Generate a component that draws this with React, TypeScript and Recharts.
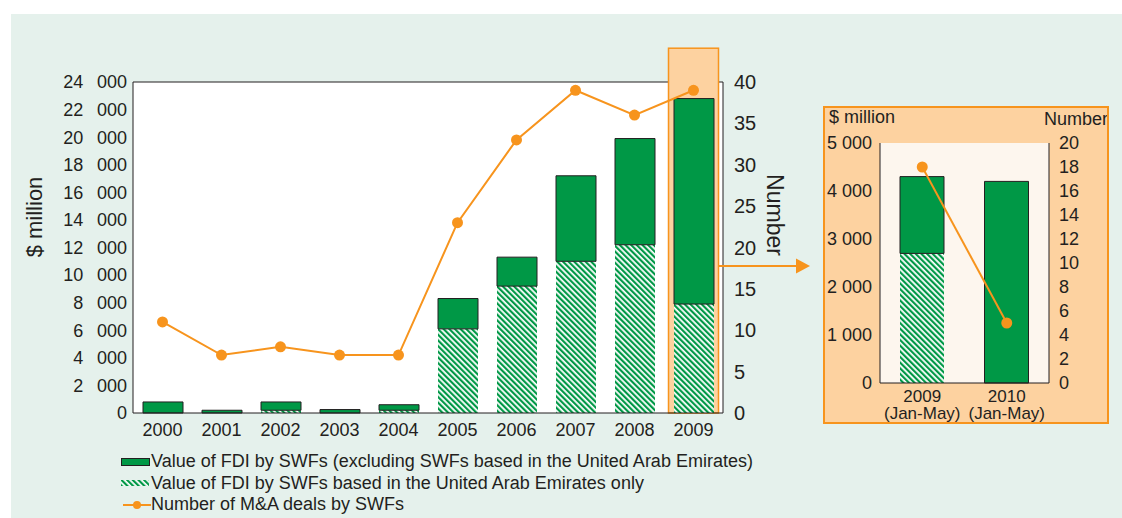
import React from "react";
import {
  ComposedChart,
  Bar,
  Line,
  XAxis,
  YAxis,
  CartesianGrid,
  ReferenceArea,
  Legend,
  Label,
} from "recharts";

// main panel: FDI by sovereign wealth funds, 2000-2009
const years = ["2000", "2001", "2002", "2003", "2004", "2005", "2006", "2007", "2008", "2009"];
const uaeFdi = [0, 0, 200, 0, 200, 6100, 9200, 11000, 12200, 7900];
const otherFdi = [800, 200, 600, 250, 400, 2200, 2100, 6200, 7700, 14900];
const dealCounts = [11, 7, 8, 7, 7, 23, 33, 39, 36, 39];

// inset panel: first five months of 2009 and 2010
const insetPeriods = ["2009 (Jan-May)", "2010 (Jan-May)"];
const insetUaeFdi = [2700, 0];
const insetOtherFdi = [1600, 4200];
const insetDealCounts = [18, 5];

const valueTicks = [0, 2000, 4000, 6000, 8000, 10000, 12000, 14000, 16000, 18000, 20000, 22000, 24000];
const countTicks = [0, 5, 10, 15, 20, 25, 30, 35, 40];
const insetValueTicks = [0, 1000, 2000, 3000, 4000, 5000];
const insetCountTicks = [0, 2, 4, 6, 8, 10, 12, 14, 16, 18, 20];

const highlightYear = "2009";

const OTHER_NAME = "Value of FDI by SWFs (excluding SWFs based in the United Arab Emirates)";
const UAE_NAME = "Value of FDI by SWFs based in the United Arab Emirates only";
const DEALS_NAME = "Number of M&A deals by SWFs";

const GREEN = "#009846";
const ORANGE = "#f7941d";
const PEACH = "#fdd2a0";
const INK = "#231f20";
const MINT = "#e5f1ec";

const mainData = years.map((year, i) => ({
  year,
  uae: uaeFdi[i],
  other: otherFdi[i],
  deals: dealCounts[i],
}));

const insetData = insetPeriods.map((period, i) => ({
  period,
  uae: insetUaeFdi[i],
  other: insetOtherFdi[i],
  deals: insetDealCounts[i],
}));

// non-breaking separators so recharts doesn't wrap the tick text
const thousands = (sep: string) => (v: number) =>
  v >= 1000 ? `${Math.floor(v / 1000)}${sep}000` : `${v}`;

// axis title drawn relative to the axis box
const axisTitle =
  (text: string, angle: number, dx: number, dyFromTop: number, fontSize: number) =>
  (props: any) => {
    const vb = props.viewBox || {};
    const x = vb.x + dx;
    const y = vb.y + dyFromTop;
    return (
      <text
        x={x}
        y={y}
        transform={angle ? `rotate(${angle} ${x} ${y})` : undefined}
        textAnchor="middle"
        dominantBaseline="central"
        fontSize={fontSize}
        fill={INK}
      >
        {text}
      </text>
    );
  };

const hatch = (id: string) => (
  <defs>
    <pattern id={id} width={4} height={4} patternUnits="userSpaceOnUse" patternTransform="rotate(-45)">
      <rect width={4} height={4} fill="#fff" />
      <rect width={2.2} height={4} fill={GREEN} />
    </pattern>
  </defs>
);

const HighlightBox = (props: any) => (
  <rect
    x={props.x + 4.5}
    y={props.y}
    width={props.width - 9}
    height={props.height}
    fill={PEACH}
    stroke={ORANGE}
    strokeWidth={1.5}
  />
);

const InsetTick = (props: any) => {
  const { x, y, payload } = props;
  const [first, ...rest] = String(payload.value).split(" ");
  return (
    <text x={x} y={y + 3} textAnchor="middle" fontSize={17} fill={INK}>
      <tspan x={x} dy="0.8em">{first}</tspan>
      <tspan x={x} dy="1em">{rest.join(" ")}</tspan>
    </text>
  );
};

const renderLegend = () => (
  <div style={{ fontSize: 18, color: INK, lineHeight: "21.5px", textAlign: "left" }}>
    <div style={{ display: "flex", alignItems: "center" }}>
      <svg width={33} height={10}>
        <rect x={3.5} y={1.5} width={28} height={7} fill={GREEN} stroke={INK} strokeWidth={1} />
      </svg>
      <span>{OTHER_NAME}</span>
    </div>
    <div style={{ display: "flex", alignItems: "center" }}>
      <svg width={33} height={10}>
        {hatch("legendHatch")}
        <rect x={3} y={2} width={28} height={6} fill="url(#legendHatch)" />
      </svg>
      <span>{UAE_NAME}</span>
    </div>
    <div style={{ display: "flex", alignItems: "center" }}>
      <svg width={33} height={12}>
        <line x1={5} y1={6} x2={33} y2={6} stroke={ORANGE} strokeWidth={2} />
        <circle cx={19} cy={6} r={4} fill={ORANGE} />
      </svg>
      <span>{DEALS_NAME}</span>
    </div>
  </div>
);

export default function App() {
  return (
    <div
      style={{
        position: "absolute",
        left: 0,
        top: 0,
        width: 1122,
        height: 518,
        background: "#fff",
        fontFamily: "'Liberation Sans', Arial, sans-serif",
        overflow: "hidden",
      }}
    >
      <div style={{ position: "absolute", left: 11, top: 14, right: 0, bottom: 0, background: MINT }} />

      <div style={{ position: "absolute", left: 0, top: 0 }}>
        <ComposedChart
          width={800}
          height={518}
          data={mainData}
          margin={{ top: 82, right: 17, bottom: 75, left: 0 }}
        >
          {hatch("uaeHatchMain")}
          <CartesianGrid
            yAxisId="left"
            fill="#fff"
            vertical={false}
            stroke={INK}
            horizontalCoordinatesGenerator={({ offset }: any) => [offset.top]}
          />
          <XAxis
            dataKey="year"
            tickLine={false}
            tickSize={0}
            tickMargin={10}
            height={30}
            axisLine={{ stroke: INK }}
            tick={{ fill: INK, fontSize: 18 }}
            interval={0}
          />
          <YAxis
            yAxisId="left"
            domain={[0, 24000]}
            ticks={valueTicks}
            interval={0}
            width={133}
            tickLine={false}
            tickSize={0}
            tickMargin={6}
            axisLine={{ stroke: INK }}
            tick={{ fill: INK, fontSize: 18 }}
            tickFormatter={thousands("\u2007\u2009")}
          >
            <Label content={axisTitle("$ million", -90, 34, 135, 22)} />
          </YAxis>
          <YAxis
            yAxisId="right"
            orientation="right"
            domain={[0, 40]}
            ticks={countTicks}
            interval={0}
            width={60}
            tickLine={false}
            tickSize={0}
            tickMargin={11}
            axisLine={{ stroke: INK }}
            tick={{ fill: INK, fontSize: 20 }}
          >
            <Label content={axisTitle("Number", 90, 52, 133, 23)} />
          </YAxis>
          <ReferenceArea
            yAxisId="left"
            x1={highlightYear}
            x2={highlightYear}
            y1={0}
            y2={26450}
            ifOverflow="visible"
            shape={HighlightBox}
          />
          <Bar
            yAxisId="left"
            dataKey="uae"
            name={UAE_NAME}
            stackId="fdi"
            barSize={40}
            fill="url(#uaeHatchMain)"
            isAnimationActive={false}
          />
          <Bar
            yAxisId="left"
            dataKey="other"
            name={OTHER_NAME}
            stackId="fdi"
            barSize={40}
            fill={GREEN}
            stroke={INK}
            strokeWidth={1}
            isAnimationActive={false}
          />
          <Line
            yAxisId="right"
            type="linear"
            dataKey="deals"
            name={DEALS_NAME}
            stroke={ORANGE}
            strokeWidth={2}
            dot={{ r: 5.5, fill: ORANGE, stroke: ORANGE, strokeWidth: 0 }}
            activeDot={false}
            isAnimationActive={false}
          />
          <Legend
            layout="horizontal"
            verticalAlign="middle"
            align="center"
            content={renderLegend}
            wrapperStyle={{ left: 118, top: 451, bottom: "auto", width: "auto" }}
          />
        </ComposedChart>
      </div>

      <svg
        width={1122}
        height={518}
        style={{ position: "absolute", left: 0, top: 0, pointerEvents: "none" }}
      >
        <line x1={718} y1={266} x2={798} y2={266} stroke={ORANGE} strokeWidth={2} />
        <polygon points="796,258.5 810,266 796,273.5" fill={ORANGE} />
      </svg>

      <div
        style={{
          position: "absolute",
          left: 823,
          top: 106,
          width: 286,
          height: 318,
          boxSizing: "border-box",
          background: PEACH,
          border: `2px solid ${ORANGE}`,
        }}
      >
        <ComposedChart
          width={282}
          height={314}
          data={insetData}
          margin={{ top: 35, right: 4, bottom: 0, left: 19 }}
        >
          {hatch("uaeHatchInset")}
          <CartesianGrid yAxisId="left" fill="#fdf6ee" vertical={false} horizontal={false} />
          <XAxis
            dataKey="period"
            tickLine={false}
            tickSize={0}
            height={39}
            axisLine={{ stroke: INK }}
            tick={InsetTick}
            interval={0}
          />
          <YAxis
            yAxisId="left"
            domain={[0, 5000]}
            ticks={insetValueTicks}
            interval={0}
            width={36}
            tickLine={false}
            tickSize={0}
            tickMargin={8}
            axisLine={{ stroke: INK }}
            tick={{ fill: INK, fontSize: 18 }}
            tickFormatter={thousands("\u00a0")}
          >
            <Label content={axisTitle("$ million", 0, 18, -26, 18)} />
          </YAxis>
          <YAxis
            yAxisId="right"
            orientation="right"
            domain={[0, 20]}
            ticks={insetCountTicks}
            interval={0}
            width={54}
            tickLine={false}
            tickSize={0}
            tickMargin={10}
            axisLine={{ stroke: INK }}
            tick={{ fill: INK, fontSize: 18 }}
          >
            <Label content={axisTitle("Number", 0, 27, -24, 18)} />
          </YAxis>
          <Bar
            yAxisId="left"
            dataKey="uae"
            stackId="fdi"
            barSize={44}
            fill="url(#uaeHatchInset)"
            isAnimationActive={false}
          />
          <Bar
            yAxisId="left"
            dataKey="other"
            stackId="fdi"
            barSize={44}
            fill={GREEN}
            stroke={INK}
            strokeWidth={1}
            isAnimationActive={false}
          />
          <Line
            yAxisId="right"
            type="linear"
            dataKey="deals"
            stroke={ORANGE}
            strokeWidth={2}
            dot={{ r: 5.5, fill: ORANGE, stroke: ORANGE, strokeWidth: 0 }}
            activeDot={false}
            isAnimationActive={false}
          />
        </ComposedChart>
      </div>
    </div>
  );
}
